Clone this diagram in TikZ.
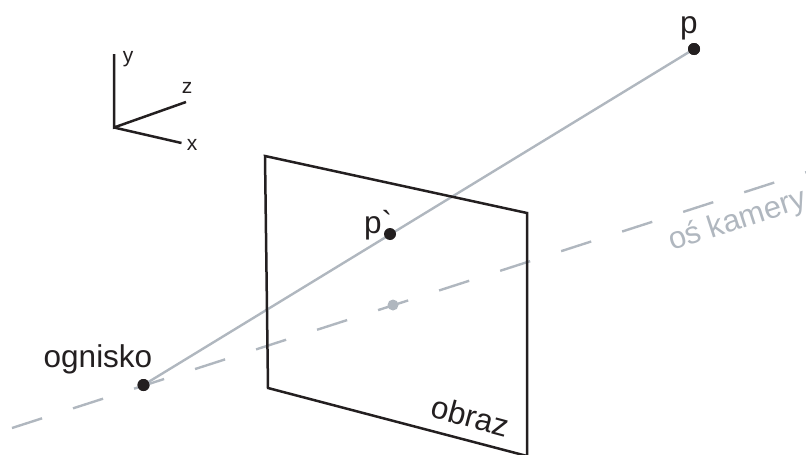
\documentclass[tikz,border=0pt]{standalone}
\usepackage{fontspec}
\setmainfont[Ligatures=NoCommon]{Liberation Sans}
\newfontfamily\plainfont{Liberation Sans}
\definecolor{ink}{HTML}{231F20}
\definecolor{soft}{HTML}{B0B7BF}
\tikzset{
  blackline/.style={draw=ink,line width=2.5pt,line join=miter},
  softline/.style={draw=soft,line width=2.4pt},
  axisdash/.style={softline,dash pattern=on 31.6pt off 32.5pt},
  dotblack/.style={circle,fill=ink,inner sep=0pt,minimum size=12pt},
  dotsoft/.style={circle,fill=soft,inner sep=0pt,minimum size=11pt},
  biglabel/.style={text=ink,inner sep=0pt,font=\plainfont\fontsize{31.5}{32}\selectfont},
  smalllabel/.style={text=ink,inner sep=0pt,font=\plainfont\fontsize{21}{21}\selectfont},
  softlabel/.style={text=soft,inner sep=0pt,font=\plainfont\fontsize{31}{31}\selectfont},
}
\begin{document}
\begin{tikzpicture}[x=1pt,y=-1pt]
\useasboundingbox (0,0) rectangle (806,455);
% points
\coordinate (axisstart) at (12,428);
\coordinate (axisend) at (807,172);
\node[dotblack] (focus) at (143.5,385) {};
\node[dotblack] (far) at (694,49) {};
% axis and ray
\draw[axisdash] (axisstart) -- (axisend);
\draw[softline] (focus) -- (far);
\node[dotblack] (focus2) at (143.5,385) {};
\node[dotblack] (far2) at (694,49) {};
\node[dotblack] (proj) at (390,234) {};
\node[dotsoft] (centre) at (393,305) {};
% image plane
\coordinate (tl) at (265,156);
\coordinate (tr) at (527,213);
\coordinate (br) at (527,457);
\coordinate (bl) at (268,388);
\coordinate (brb) at (527,456);
\draw[blackline] (br) -- (tr) -- (tl) -- (bl) -- (brb);
% axes
\coordinate (o) at (114,127.5);
\coordinate (ay) at (114,54);
\coordinate (az) at (186,102);
\coordinate (ax) at (181.5,143);
\draw[blackline] (ay) -- (o) -- (az);
\draw[blackline] (o) -- (ax);
\node[smalllabel,anchor=base] (ly) at (128,62) {y};
\node[smalllabel,anchor=base] (lz) at (187,93) {z};
\node[smalllabel,anchor=base] (lx) at (192,150) {x};
% labels
\node[biglabel,anchor=base] (lp) at (689,33) {p};
\node[biglabel,anchor=base west] (lpp) at (364,233) {p\char"60};
\node[biglabel,anchor=base] (lf) at (98,367) {ognisko};
\node[biglabel,anchor=base,rotate=-15] (lo) at (468,427) {obraz};
\node[softlabel,anchor=base west,rotate=18] (lk) at (672,251) {oś kamery};
\end{tikzpicture}
\end{document}
